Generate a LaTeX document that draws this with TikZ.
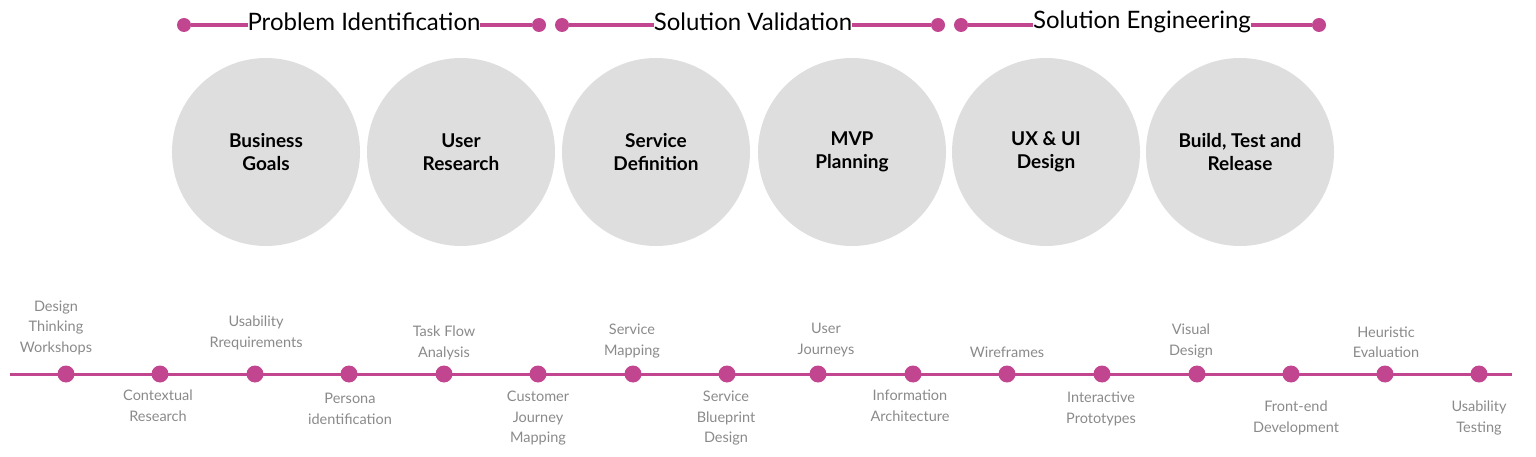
\documentclass[tikz,border=0pt]{standalone}
\usepackage{fontspec}
\setmainfont{Lato}
\definecolor{mag}{HTML}{C2458F}
\definecolor{circ}{HTML}{DEDEDE}
\definecolor{lbl}{HTML}{8A8A8A}
\begin{document}
\begin{tikzpicture}[x=1pt,y=-1pt,
 dot/.style={circle,fill=mag,inner sep=0pt,minimum size=17pt},
 sdot/.style={circle,fill=mag,inner sep=0pt,minimum size=14pt},
 bar/.style={draw=mag,line width=3.5pt},
 phase/.style={fill=white,inner sep=0pt,font=\fontsize{24}{26}\selectfont},
 big/.style={circle,fill=circ,minimum size=188pt,inner sep=0pt,align=center,font=\fontsize{19}{23}\selectfont\bfseries},
 up/.style={anchor=south,align=center,text=lbl,font=\fontsize{14.5}{20.5}\selectfont,inner sep=0pt},
 dn/.style={anchor=north,align=center,text=lbl,font=\fontsize{14.5}{20.5}\selectfont,inner sep=0pt}]
\useasboundingbox (0,0) rectangle (1536,457);
% phases
\foreach \a/\b/\c/\t/\n in {184/539/364/Problem Identification/p1,562/938/753/Solution Validation/p2,961/1319/1142/Solution Engineering/p3}{
 \node[sdot] (\n a) at (\a,25) {};
 \node[sdot] (\n b) at (\b,25) {};
 \draw[bar] (\n a) -- (\n b);
 \node[phase] (\n t) at (\c,22) {\t};
}
% circles
\node[big] (c1) at (266,152) {Business\\Goals};
\node[big] (c2) at (461,152) {User\\Research};
\node[big] (c3) at (656,152) {Service\\Definition};
\node[big] (c4) at (852,152) {MVP\\Planning};
\node[big] (c5) at (1046,152) {UX \& UI\\Design};
\node[big] (c6) at (1240,152) {Build, Test and\\Release};
% timeline
\coordinate (ls) at (10,374);
\coordinate (le) at (1512,374);
\draw[bar,line width=3pt] (ls) -- (le);
\foreach \x/\n in {66/d1,160/d2,255/d3,349/d4,444/d5,538/d6,633/d7,727/d8,818/d9,913/d10,1007/d11,1102/d12,1197/d13,1291/d14,1385/d15,1479/d16}
 \node[dot] (\n) at (\x,374) {};
\node[up] at (56,355) {Design\\Thinking\\Workshops};
\node[dn] at (158,390) {Contextual\\Research};
\node[up] at (256,350) {Usability\\Rrequirements};
\node[dn] at (350,393) {Persona\\identification};
\node[up] at (444,360) {Task Flow\\Analysis};
\node[dn] at (538,391) {Customer\\Journey\\Mapping};
\node[up] at (632,358) {Service\\Mapping};
\node[dn] at (726,391) {Service\\Blueprint\\Design};
\node[up] at (826,357) {User\\Journeys};
\node[dn] at (910,390) {Information\\Architecture};
\node[up] at (1007,358) {Wireframes};
\node[dn] at (1101,392) {Interactive\\Prototypes};
\node[up] at (1191,358) {Visual\\Design};
\node[dn] at (1296,401) {Front-end\\Development};
\node[up] at (1386,358) {Heuristic\\Evaluation};
\node[dn] at (1479,401) {Usability\\Testing};
\end{tikzpicture}
\end{document}
